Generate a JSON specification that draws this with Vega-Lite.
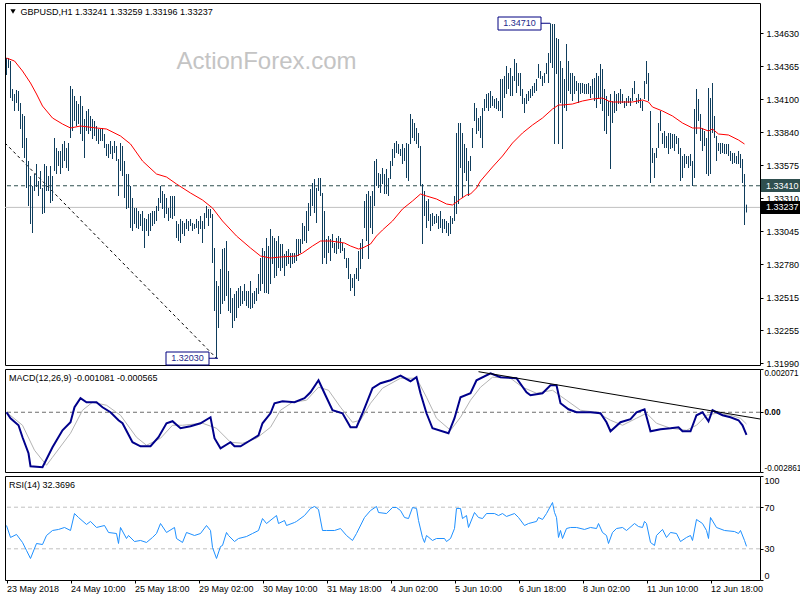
{
"$schema": "https://vega.github.io/schema/vega-lite/v6.json",
"background": "white",
"padding": {"left": 2, "top": 2, "right": 0, "bottom": 0},
"spacing": 4,
"bounds": "flush",
"config": {
  "view": {"stroke": "black", "strokeWidth": 1},
  "axis": {"labelFont": "Liberation Sans", "labelFontSize": 9, "labelColor": "black", "tickColor": "black", "tickSize": 3, "domain": false, "grid": false, "labelPadding": 3, "labelOverlap": false},
  "text": {"font": "Liberation Sans", "fontSize": 9}
},
"datasets": {
"bars": [
{"i":0,"h":1.34432,"l":1.34296},{"i":1,"h":1.34432,"l":1.34352},{"i":2,"h":1.34408,"l":1.34112},{"i":3,"h":1.34184,"l":1.34088},{"i":4,"h":1.34144,"l":1.34008},{"i":5,"h":1.34176,"l":1.34072},{"i":6,"h":1.34168,"l":1.34008},{"i":7,"h":1.34072,"l":1.33864},{"i":8,"h":1.33984,"l":1.33712},{"i":9,"h":1.33968,"l":1.33632},
{"i":10,"h":1.33792,"l":1.33392},{"i":11,"h":1.33608,"l":1.33248},{"i":12,"h":1.33488,"l":1.33104},{"i":13,"h":1.33408,"l":1.33032},{"i":14,"h":1.33504,"l":1.33368},{"i":15,"h":1.33584,"l":1.334},{"i":16,"h":1.33448,"l":1.33328},{"i":17,"h":1.33528,"l":1.33384},{"i":18,"h":1.33392,"l":1.33184},{"i":19,"h":1.33584,"l":1.33192},
{"i":20,"h":1.33568,"l":1.33368},{"i":21,"h":1.33488,"l":1.33368},{"i":22,"h":1.33568,"l":1.33272},{"i":23,"h":1.33488,"l":1.33288},{"i":24,"h":1.33792,"l":1.33528},{"i":25,"h":1.33712,"l":1.33504},{"i":26,"h":1.33688,"l":1.33568},{"i":27,"h":1.33688,"l":1.33504},{"i":28,"h":1.33744,"l":1.33552},{"i":29,"h":1.33768,"l":1.33608},
{"i":30,"h":1.33712,"l":1.33552},{"i":31,"h":1.33752,"l":1.33528},{"i":32,"h":1.34208,"l":1.33792},{"i":33,"h":1.34184,"l":1.33848},{"i":34,"h":1.34128,"l":1.33928},{"i":35,"h":1.34088,"l":1.33888},{"i":36,"h":1.34064,"l":1.33904},{"i":37,"h":1.34128,"l":1.33824},{"i":38,"h":1.34048,"l":1.33768},{"i":39,"h":1.33944,"l":1.33632},
{"i":40,"h":1.34008,"l":1.33848},{"i":41,"h":1.34024,"l":1.33824},{"i":42,"h":1.33968,"l":1.33848},{"i":43,"h":1.33944,"l":1.33784},{"i":44,"h":1.33928,"l":1.33808},{"i":45,"h":1.33888,"l":1.33768},{"i":46,"h":1.33864,"l":1.33744},{"i":47,"h":1.33864,"l":1.33768},{"i":48,"h":1.33872,"l":1.33768},{"i":49,"h":1.33824,"l":1.33712},
{"i":50,"h":1.33744,"l":1.33648},{"i":51,"h":1.33744,"l":1.33632},{"i":52,"h":1.33768,"l":1.33664},{"i":53,"h":1.33728,"l":1.33624},{"i":54,"h":1.33768,"l":1.33672},{"i":55,"h":1.33728,"l":1.33608},{"i":56,"h":1.33624,"l":1.33328},{"i":57,"h":1.33752,"l":1.33528},{"i":58,"h":1.33728,"l":1.33488},{"i":59,"h":1.33608,"l":1.33312},
{"i":60,"h":1.33504,"l":1.33224},{"i":61,"h":1.33504,"l":1.33232},{"i":62,"h":1.33408,"l":1.33072},{"i":63,"h":1.33312,"l":1.33048},{"i":64,"h":1.33232,"l":1.33104},{"i":65,"h":1.33232,"l":1.33072},{"i":66,"h":1.33208,"l":1.33064},{"i":67,"h":1.33184,"l":1.33088},{"i":68,"h":1.33208,"l":1.33048},{"i":69,"h":1.33152,"l":1.32912},
{"i":70,"h":1.33144,"l":1.33048},{"i":71,"h":1.33184,"l":1.33008},{"i":72,"h":1.33192,"l":1.33048},{"i":73,"h":1.33208,"l":1.33088},{"i":74,"h":1.33208,"l":1.33104},{"i":75,"h":1.33248,"l":1.33128},{"i":76,"h":1.33312,"l":1.33208},{"i":77,"h":1.33408,"l":1.33272},{"i":78,"h":1.33368,"l":1.33224},{"i":79,"h":1.33344,"l":1.33152},
{"i":80,"h":1.33312,"l":1.33184},{"i":81,"h":1.33232,"l":1.33128},{"i":82,"h":1.33328,"l":1.33152},{"i":83,"h":1.33328,"l":1.33144},{"i":84,"h":1.33328,"l":1.33168},{"i":85,"h":1.33128,"l":1.32992},{"i":86,"h":1.33104,"l":1.32968},{"i":87,"h":1.33144,"l":1.32952},{"i":88,"h":1.33128,"l":1.33024},{"i":89,"h":1.33112,"l":1.33008},
{"i":90,"h":1.33144,"l":1.33064},{"i":91,"h":1.33128,"l":1.33048},{"i":92,"h":1.33144,"l":1.33088},{"i":93,"h":1.33112,"l":1.33048},{"i":94,"h":1.33104,"l":1.33064},{"i":95,"h":1.33144,"l":1.33072},{"i":96,"h":1.33128,"l":1.33024},{"i":97,"h":1.33168,"l":1.33064},{"i":98,"h":1.33128,"l":1.32952},{"i":99,"h":1.33192,"l":1.33064},
{"i":100,"h":1.33248,"l":1.33152},{"i":101,"h":1.33224,"l":1.33088},{"i":102,"h":1.33224,"l":1.33152},{"i":103,"h":1.33184,"l":1.32792},{"i":104,"h":1.32912,"l":1.32408},{"i":105,"h":1.32648,"l":1.3203},{"i":106,"h":1.32608,"l":1.32272},{"i":107,"h":1.32744,"l":1.32384},{"i":108,"h":1.32904,"l":1.32464},{"i":109,"h":1.32912,"l":1.32488},
{"i":110,"h":1.32968,"l":1.32528},{"i":111,"h":1.32728,"l":1.32408},{"i":112,"h":1.32592,"l":1.32392},{"i":113,"h":1.32512,"l":1.32272},{"i":114,"h":1.32544,"l":1.32328},{"i":115,"h":1.32568,"l":1.32352},{"i":116,"h":1.32592,"l":1.32432},{"i":117,"h":1.32608,"l":1.32448},{"i":118,"h":1.32568,"l":1.32464},{"i":119,"h":1.32624,"l":1.32488},
{"i":120,"h":1.32568,"l":1.32448},{"i":121,"h":1.32568,"l":1.32432},{"i":122,"h":1.32648,"l":1.32424},{"i":123,"h":1.32552,"l":1.32432},{"i":124,"h":1.32568,"l":1.32464},{"i":125,"h":1.32592,"l":1.32488},{"i":126,"h":1.32704,"l":1.32544},{"i":127,"h":1.32832,"l":1.32568},{"i":128,"h":1.32912,"l":1.32624},{"i":129,"h":1.32888,"l":1.32552},
{"i":130,"h":1.32992,"l":1.32552},{"i":131,"h":1.32928,"l":1.32544},{"i":132,"h":1.33064,"l":1.32624},{"i":133,"h":1.33008,"l":1.32784},{"i":134,"h":1.32992,"l":1.32672},{"i":135,"h":1.32968,"l":1.32688},{"i":136,"h":1.33008,"l":1.32752},{"i":137,"h":1.32944,"l":1.32728},{"i":138,"h":1.32944,"l":1.32752},{"i":139,"h":1.32864,"l":1.32688},
{"i":140,"h":1.32888,"l":1.32768},{"i":141,"h":1.32904,"l":1.32784},{"i":142,"h":1.32872,"l":1.32752},{"i":143,"h":1.32872,"l":1.32784},{"i":144,"h":1.32872,"l":1.32792},{"i":145,"h":1.32984,"l":1.32808},{"i":146,"h":1.32984,"l":1.32848},{"i":147,"h":1.32984,"l":1.32872},{"i":148,"h":1.33112,"l":1.32944},{"i":149,"h":1.33088,"l":1.32968},
{"i":150,"h":1.33208,"l":1.32952},{"i":151,"h":1.33272,"l":1.33048},{"i":152,"h":1.33384,"l":1.33168},{"i":153,"h":1.33432,"l":1.33248},{"i":154,"h":1.33464,"l":1.33192},{"i":155,"h":1.33392,"l":1.33112},{"i":156,"h":1.33472,"l":1.33368},{"i":157,"h":1.33472,"l":1.33328},{"i":158,"h":1.33352,"l":1.32784},{"i":159,"h":1.33208,"l":1.32832},
{"i":160,"h":1.32984,"l":1.32784},{"i":161,"h":1.33008,"l":1.32872},{"i":162,"h":1.32984,"l":1.32808},{"i":163,"h":1.33024,"l":1.32912},{"i":164,"h":1.32952,"l":1.32872},{"i":165,"h":1.32992,"l":1.32864},{"i":166,"h":1.33008,"l":1.32904},{"i":167,"h":1.32992,"l":1.32872},{"i":168,"h":1.32952,"l":1.32888},{"i":169,"h":1.32912,"l":1.32824},
{"i":170,"h":1.32832,"l":1.32752},{"i":171,"h":1.32832,"l":1.32664},{"i":172,"h":1.32704,"l":1.32568},{"i":173,"h":1.32672,"l":1.32592},{"i":174,"h":1.32704,"l":1.32528},{"i":175,"h":1.32752,"l":1.32664},{"i":176,"h":1.32888,"l":1.32648},{"i":177,"h":1.32952,"l":1.32744},{"i":178,"h":1.32984,"l":1.32824},{"i":179,"h":1.33288,"l":1.33072},
{"i":180,"h":1.33344,"l":1.32968},{"i":181,"h":1.33368,"l":1.32824},{"i":182,"h":1.33328,"l":1.33072},{"i":183,"h":1.33368,"l":1.33024},{"i":184,"h":1.33608,"l":1.33248},{"i":185,"h":1.33624,"l":1.33408},{"i":186,"h":1.33512,"l":1.33392},{"i":187,"h":1.33504,"l":1.33352},{"i":188,"h":1.33552,"l":1.33424},{"i":189,"h":1.33504,"l":1.33344},
{"i":190,"h":1.33544,"l":1.33344},{"i":191,"h":1.33472,"l":1.33328},{"i":192,"h":1.33608,"l":1.33464},{"i":193,"h":1.33704,"l":1.33568},{"i":194,"h":1.33752,"l":1.33632},{"i":195,"h":1.33768,"l":1.33672},{"i":196,"h":1.33744,"l":1.33664},{"i":197,"h":1.33704,"l":1.33648},{"i":198,"h":1.33744,"l":1.33584},{"i":199,"h":1.33712,"l":1.33608},
{"i":200,"h":1.33752,"l":1.33472},{"i":201,"h":1.33744,"l":1.33448},{"i":202,"h":1.33984,"l":1.33744},{"i":203,"h":1.33944,"l":1.33792},{"i":204,"h":1.33912,"l":1.33768},{"i":205,"h":1.33872,"l":1.33744},{"i":206,"h":1.33832,"l":1.33712},{"i":207,"h":1.33728,"l":1.33408},{"i":208,"h":1.33424,"l":1.32944},{"i":209,"h":1.33368,"l":1.33168},
{"i":210,"h":1.33288,"l":1.33072},{"i":211,"h":1.33304,"l":1.33128},{"i":212,"h":1.33184,"l":1.33048},{"i":213,"h":1.33192,"l":1.33088},{"i":214,"h":1.33168,"l":1.33104},{"i":215,"h":1.33184,"l":1.33112},{"i":216,"h":1.33168,"l":1.33064},{"i":217,"h":1.33208,"l":1.33072},{"i":218,"h":1.33144,"l":1.33032},{"i":219,"h":1.33144,"l":1.33064},
{"i":220,"h":1.33128,"l":1.33032},{"i":221,"h":1.33112,"l":1.33008},{"i":222,"h":1.33168,"l":1.33024},{"i":223,"h":1.33152,"l":1.33104},{"i":224,"h":1.33328,"l":1.33128},{"i":225,"h":1.33832,"l":1.33184},{"i":226,"h":1.33912,"l":1.33264},{"i":227,"h":1.33912,"l":1.33552},{"i":228,"h":1.33832,"l":1.33312},{"i":229,"h":1.33744,"l":1.33512},
{"i":230,"h":1.33712,"l":1.33448},{"i":231,"h":1.33608,"l":1.33328},{"i":232,"h":1.33648,"l":1.33528},{"i":233,"h":1.33872,"l":1.33712},{"i":234,"h":1.34072,"l":1.33928},{"i":235,"h":1.34032,"l":1.33824},{"i":236,"h":1.33952,"l":1.33848},{"i":237,"h":1.33968,"l":1.33792},{"i":238,"h":1.34032,"l":1.33712},{"i":239,"h":1.34104,"l":1.34008},
{"i":240,"h":1.34144,"l":1.34032},{"i":241,"h":1.34152,"l":1.34008},{"i":242,"h":1.34168,"l":1.34032},{"i":243,"h":1.34128,"l":1.34048},{"i":244,"h":1.34104,"l":1.34032},{"i":245,"h":1.34112,"l":1.34024},{"i":246,"h":1.34088,"l":1.34008},{"i":247,"h":1.34264,"l":1.34008},{"i":248,"h":1.34264,"l":1.33952},{"i":249,"h":1.34288,"l":1.34112},
{"i":250,"h":1.34368,"l":1.34144},{"i":251,"h":1.34312,"l":1.34184},{"i":252,"h":1.34352,"l":1.34128},{"i":253,"h":1.34288,"l":1.34128},{"i":254,"h":1.34424,"l":1.34248},{"i":255,"h":1.34392,"l":1.34152},{"i":256,"h":1.34312,"l":1.34208},{"i":257,"h":1.34312,"l":1.34128},{"i":258,"h":1.34184,"l":1.34064},{"i":259,"h":1.34112,"l":1.33992},
{"i":260,"h":1.34144,"l":1.34064},{"i":261,"h":1.34168,"l":1.34088},{"i":262,"h":1.34184,"l":1.34112},{"i":263,"h":1.34208,"l":1.34128},{"i":264,"h":1.34232,"l":1.34152},{"i":265,"h":1.34264,"l":1.34168},{"i":266,"h":1.34384,"l":1.34272},{"i":267,"h":1.34328,"l":1.34264},{"i":268,"h":1.34288,"l":1.34208},{"i":269,"h":1.34312,"l":1.34232},
{"i":270,"h":1.34392,"l":1.34304},{"i":271,"h":1.34472,"l":1.34232},{"i":272,"h":1.3471,"l":1.34392},{"i":273,"h":1.34704,"l":1.34352},{"i":274,"h":1.34704,"l":1.33744},{"i":275,"h":1.34592,"l":1.34304},{"i":276,"h":1.34584,"l":1.33744},{"i":277,"h":1.34408,"l":1.34072},{"i":278,"h":1.34352,"l":1.33704},{"i":279,"h":1.34264,"l":1.34032},
{"i":280,"h":1.34544,"l":1.34008},{"i":281,"h":1.34408,"l":1.34168},{"i":282,"h":1.34312,"l":1.34144},{"i":283,"h":1.34312,"l":1.34088},{"i":284,"h":1.34288,"l":1.34144},{"i":285,"h":1.34248,"l":1.34168},{"i":286,"h":1.34232,"l":1.34072},{"i":287,"h":1.34232,"l":1.34144},{"i":288,"h":1.34232,"l":1.34152},{"i":289,"h":1.34224,"l":1.34144},
{"i":290,"h":1.34224,"l":1.34144},{"i":291,"h":1.34232,"l":1.34144},{"i":292,"h":1.34208,"l":1.34112},{"i":293,"h":1.34264,"l":1.34144},{"i":294,"h":1.34272,"l":1.34088},{"i":295,"h":1.34312,"l":1.34032},{"i":296,"h":1.34288,"l":1.34104},{"i":297,"h":1.34384,"l":1.34064},{"i":298,"h":1.34344,"l":1.34008},{"i":299,"h":1.34184,"l":1.33848},
{"i":300,"h":1.34128,"l":1.33824},{"i":301,"h":1.34088,"l":1.33968},{"i":302,"h":1.34144,"l":1.33544},{"i":303,"h":1.34088,"l":1.33912},{"i":304,"h":1.34168,"l":1.33992},{"i":305,"h":1.34144,"l":1.34008},{"i":306,"h":1.34152,"l":1.34064},{"i":307,"h":1.34184,"l":1.34064},{"i":308,"h":1.34144,"l":1.34072},{"i":309,"h":1.34088,"l":1.34032},
{"i":310,"h":1.34112,"l":1.34048},{"i":311,"h":1.34128,"l":1.34072},{"i":312,"h":1.34112,"l":1.34048},{"i":313,"h":1.34192,"l":1.34088},{"i":314,"h":1.34248,"l":1.34144},{"i":315,"h":1.34112,"l":1.34064},{"i":316,"h":1.34144,"l":1.34072},{"i":317,"h":1.34112,"l":1.34032},{"i":318,"h":1.34088,"l":1.34008},{"i":319,"h":1.34248,"l":1.34104},
{"i":320,"h":1.34408,"l":1.34224},{"i":321,"h":1.34312,"l":1.34088},{"i":322,"h":1.34008,"l":1.33432},{"i":323,"h":1.33712,"l":1.33592},{"i":324,"h":1.33672,"l":1.33472},{"i":325,"h":1.33712,"l":1.33632},{"i":326,"h":1.33912,"l":1.33712},{"i":327,"h":1.34008,"l":1.33848},{"i":328,"h":1.33832,"l":1.33744},{"i":329,"h":1.33848,"l":1.33712},
{"i":330,"h":1.33808,"l":1.33712},{"i":331,"h":1.33832,"l":1.33664},{"i":332,"h":1.33832,"l":1.33704},{"i":333,"h":1.33824,"l":1.33712},{"i":334,"h":1.33824,"l":1.33688},{"i":335,"h":1.33808,"l":1.33744},{"i":336,"h":1.33792,"l":1.33664},{"i":337,"h":1.33712,"l":1.33448},{"i":338,"h":1.33648,"l":1.33472},{"i":339,"h":1.33664,"l":1.33552},
{"i":340,"h":1.33648,"l":1.33584},{"i":341,"h":1.33648,"l":1.33552},{"i":342,"h":1.33664,"l":1.33568},{"i":343,"h":1.33608,"l":1.33408},{"i":344,"h":1.34024,"l":1.33472},{"i":345,"h":1.34184,"l":1.33824},{"i":346,"h":1.34104,"l":1.33928},{"i":347,"h":1.33984,"l":1.33768},{"i":348,"h":1.33872,"l":1.33688},{"i":349,"h":1.33848,"l":1.33728},
{"i":350,"h":1.33792,"l":1.33504},{"i":351,"h":1.34192,"l":1.33488},{"i":352,"h":1.34112,"l":1.33504},{"i":353,"h":1.34232,"l":1.33832},{"i":354,"h":1.33968,"l":1.33792},{"i":355,"h":1.33808,"l":1.33608},{"i":356,"h":1.33752,"l":1.33688},{"i":357,"h":1.33752,"l":1.33664},{"i":358,"h":1.33752,"l":1.33672},{"i":359,"h":1.33744,"l":1.33664},
{"i":360,"h":1.33744,"l":1.33664},{"i":361,"h":1.33744,"l":1.33648},{"i":362,"h":1.33688,"l":1.33608},{"i":363,"h":1.33672,"l":1.33584},{"i":364,"h":1.33672,"l":1.33592},{"i":365,"h":1.33648,"l":1.33584},{"i":366,"h":1.33688,"l":1.33584},{"i":367,"h":1.33664,"l":1.33552},{"i":368,"h":1.33624,"l":1.33432},{"i":369,"h":1.33504,"l":1.33096},
{"i":370,"h":1.33259,"l":1.33196}
],
"ma": [
{"i":0,"v":1.34432},{"i":4,"v":1.34408},{"i":8,"v":1.34328},{"i":12,"v":1.34232},{"i":15,"v":1.34144},{"i":18,"v":1.34048},{"i":23,"v":1.33952},{"i":28,"v":1.33904},{"i":32,"v":1.33872},{"i":37,"v":1.33888},{"i":45,"v":1.33872},{"i":50,"v":1.33864},{"i":57,"v":1.33808},{"i":62,"v":1.33744},{"i":68,"v":1.33608},{"i":75,"v":1.33504},{"i":80,"v":1.3348},{"i":85,"v":1.33424},{"i":92,"v":1.33352},{"i":98,"v":1.33296},{"i":103,"v":1.33232},{"i":108,"v":1.33128},{"i":115,"v":1.33008},{"i":122,"v":1.32912},{"i":127,"v":1.32848},{"i":132,"v":1.32832},{"i":137,"v":1.3284},{"i":145,"v":1.32848},{"i":148,"v":1.32872},{"i":153,"v":1.32928},{"i":157,"v":1.32968},{"i":162,"v":1.32968},{"i":169,"v":1.32952},{"i":172,"v":1.32928},{"i":176,"v":1.32904},{"i":178,"v":1.32912},{"i":182,"v":1.32944},{"i":185,"v":1.33008},{"i":188,"v":1.33056},{"i":193,"v":1.33128},{"i":198,"v":1.33224},{"i":203,"v":1.33288},{"i":207,"v":1.33344},{"i":210,"v":1.33328},{"i":215,"v":1.33304},{"i":220,"v":1.33264},{"i":223,"v":1.33256},{"i":227,"v":1.33304},{"i":230,"v":1.33336},{"i":232,"v":1.33344},{"i":235,"v":1.33392},{"i":237,"v":1.33448},{"i":243,"v":1.3356},{"i":248,"v":1.33648},{"i":253,"v":1.33752},{"i":258,"v":1.33832},{"i":263,"v":1.33896},{"i":268,"v":1.33952},{"i":273,"v":1.34024},{"i":276,"v":1.34056},{"i":278,"v":1.34056},{"i":283,"v":1.34064},{"i":288,"v":1.34088},{"i":293,"v":1.34104},{"i":298,"v":1.34112},{"i":301,"v":1.34088},{"i":303,"v":1.3408},{"i":308,"v":1.3408},{"i":313,"v":1.3408},{"i":318,"v":1.34096},{"i":321,"v":1.3408},{"i":323,"v":1.3404},{"i":328,"v":1.34008},{"i":333,"v":1.33968},{"i":338,"v":1.33912},{"i":343,"v":1.33872},{"i":347,"v":1.33872},{"i":351,"v":1.33848},{"i":353,"v":1.33864},{"i":356,"v":1.33824},{"i":361,"v":1.33816},{"i":366,"v":1.33776},{"i":369,"v":1.33744}
],
"macd": [
{"i":0,"v":0},{"i":2,"v":-0.000287},{"i":6,"v":-0.000623},{"i":8,"v":-0.001198},{"i":11,"v":-0.001964},{"i":12,"v":-0.002587},{"i":18,"v":-0.002635},{"i":23,"v":-0.001677},{"i":28,"v":-0.000862},{"i":32,"v":-0.000479},{"i":34,"v":0.00024},{"i":37,"v":0.000671},{"i":40,"v":0.000479},{"i":45,"v":0.000479},{"i":48,"v":0.00024},{"i":52,"v":0},{"i":56,"v":-0.000383},{"i":58,"v":-0.000527},{"i":63,"v":-0.001437},{"i":67,"v":-0.001629},{"i":72,"v":-0.001629},{"i":76,"v":-0.001198},{"i":80,"v":-0.000527},{"i":83,"v":-0.000431},{"i":87,"v":-0.000766},{"i":92,"v":-0.000671},{"i":97,"v":-0.000527},{"i":102,"v":-0.00024},{"i":104,"v":-0.001245},{"i":107,"v":-0.001724},{"i":112,"v":-0.001437},{"i":114,"v":-0.001629},{"i":117,"v":-0.001629},{"i":122,"v":-0.001341},{"i":126,"v":-0.001102},{"i":128,"v":-0.000527},{"i":132,"v":-0.000048},{"i":134,"v":0.000431},{"i":138,"v":0.000527},{"i":144,"v":0.000479},{"i":149,"v":0.000671},{"i":152,"v":0.000958},{"i":156,"v":0.001533},{"i":159,"v":0.00091},{"i":163,"v":0.000096},{"i":168,"v":-0.000048},{"i":172,"v":-0.000719},{"i":175,"v":-0.000719},{"i":178,"v":-0.000048},{"i":183,"v":0.00115},{"i":187,"v":0.001389},{"i":192,"v":0.001533},{"i":197,"v":0.00175},{"i":202,"v":0.001485},{"i":205,"v":0.001677},{"i":207,"v":0.00091},{"i":210,"v":-0.000048},{"i":213,"v":-0.000766},{"i":221,"v":-0.001006},{"i":224,"v":-0.000287},{"i":227,"v":0.000719},{"i":232,"v":0.00091},{"i":235,"v":0.001533},{"i":242,"v":0.001868},{"i":247,"v":0.001677},{"i":255,"v":0.001629},{"i":260,"v":0.000958},{"i":262,"v":0.000814},{"i":268,"v":0.00091},{"i":272,"v":0.001293},{"i":275,"v":0.001293},{"i":277,"v":0.000431},{"i":281,"v":0.000144},{"i":285,"v":0},{"i":292,"v":0},{"i":297,"v":-0.000048},{"i":300,"v":-0.000479},{"i":302,"v":-0.00091},{"i":307,"v":-0.000479},{"i":312,"v":-0.000335},{"i":315,"v":0},{"i":319,"v":0.000144},{"i":322,"v":-0.00091},{"i":327,"v":-0.000814},{"i":332,"v":-0.000766},{"i":336,"v":-0.000719},{"i":338,"v":-0.00091},{"i":342,"v":-0.00091},{"i":345,"v":-0.000144},{"i":348,"v":0},{"i":351,"v":-0.000431},{"i":353,"v":0.000096},{"i":358,"v":-0.000144},{"i":362,"v":-0.00024},{"i":366,"v":-0.000383},{"i":368,"v":-0.000623},{"i":370,"v":-0.001081}
],
"sig": [
{"i":0,"v":0},{"i":8,"v":-0.000623},{"i":14,"v":-0.00182},{"i":20,"v":-0.002539},{"i":23,"v":-0.002156},{"i":32,"v":-0.001006},{"i":38,"v":0.000096},{"i":43,"v":0.000479},{"i":50,"v":0.000335},{"i":57,"v":-0.000144},{"i":65,"v":-0.001198},{"i":70,"v":-0.001581},{"i":77,"v":-0.001245},{"i":83,"v":-0.000623},{"i":88,"v":-0.000623},{"i":98,"v":-0.000527},{"i":105,"v":-0.000766},{"i":112,"v":-0.001437},{"i":118,"v":-0.001485},{"i":125,"v":-0.001245},{"i":132,"v":-0.000719},{"i":137,"v":0.000096},{"i":143,"v":0.000479},{"i":150,"v":0.000575},{"i":156,"v":0.001198},{"i":161,"v":0.001054},{"i":167,"v":0.00024},{"i":173,"v":-0.000479},{"i":177,"v":-0.000383},{"i":182,"v":0.000431},{"i":188,"v":0.00115},{"i":197,"v":0.001629},{"i":205,"v":0.001629},{"i":210,"v":0.000719},{"i":215,"v":-0.000287},{"i":222,"v":-0.000862},{"i":227,"v":-0.00024},{"i":232,"v":0.000575},{"i":237,"v":0.001198},{"i":243,"v":0.001677},{"i":252,"v":0.001629},{"i":258,"v":0.001198},{"i":265,"v":0.00091},{"i":273,"v":0.001054},{"i":280,"v":0.000575},{"i":287,"v":0.000096},{"i":295,"v":0},{"i":302,"v":-0.000383},{"i":308,"v":-0.000623},{"i":315,"v":-0.000287},{"i":320,"v":-0.000048},{"i":325,"v":-0.000527},{"i":332,"v":-0.000766},{"i":340,"v":-0.000862},{"i":345,"v":-0.000623},{"i":350,"v":-0.000144},{"i":355,"v":-0.000048},{"i":362,"v":-0.000144},{"i":367,"v":-0.000287},{"i":370,"v":-0.000565}
],
"rsi": [
{"i":0,"r":52.4},{"i":2,"r":40.9},{"i":5,"r":43.8},{"i":8,"r":36.1},{"i":10,"r":28.4},{"i":12,"r":20.7},{"i":15,"r":35.1},{"i":18,"r":34.1},{"i":20,"r":42.8},{"i":23,"r":47.6},{"i":26,"r":48.6},{"i":29,"r":50.5},{"i":32,"r":47.6},{"i":34,"r":63.9},{"i":36,"r":60.1},{"i":40,"r":53.4},{"i":42,"r":56.3},{"i":45,"r":50.5},{"i":49,"r":52.4},{"i":51,"r":45.7},{"i":55,"r":44.7},{"i":56,"r":35.1},{"i":57,"r":50.5},{"i":60,"r":39.9},{"i":61,"r":42.8},{"i":64,"r":37.0},{"i":67,"r":38.0},{"i":70,"r":36.1},{"i":73,"r":40.9},{"i":75,"r":44.7},{"i":77,"r":54.3},{"i":80,"r":45.7},{"i":84,"r":50.5},{"i":85,"r":39.9},{"i":88,"r":36.1},{"i":90,"r":45.7},{"i":94,"r":42.8},{"i":97,"r":44.7},{"i":100,"r":52.4},{"i":102,"r":47.6},{"i":103,"r":31.3},{"i":105,"r":20.7},{"i":107,"r":32.2},{"i":108,"r":33.2},{"i":110,"r":45.7},{"i":111,"r":42.8},{"i":114,"r":37.0},{"i":116,"r":39.9},{"i":120,"r":41.8},{"i":123,"r":44.7},{"i":126,"r":47.6},{"i":128,"r":59.1},{"i":130,"r":54.3},{"i":135,"r":62.0},{"i":136,"r":54.3},{"i":139,"r":57.2},{"i":140,"r":52.4},{"i":144,"r":55.3},{"i":145,"r":56.3},{"i":149,"r":62.0},{"i":152,"r":68.8},{"i":154,"r":70.7},{"i":156,"r":67.8},{"i":158,"r":47.6},{"i":160,"r":47.6},{"i":164,"r":47.6},{"i":167,"r":49.5},{"i":170,"r":42.8},{"i":173,"r":38.0},{"i":175,"r":44.7},{"i":179,"r":60.1},{"i":182,"r":66.8},{"i":185,"r":70.7},{"i":186,"r":64.9},{"i":190,"r":63.9},{"i":193,"r":69.7},{"i":195,"r":69.7},{"i":197,"r":66.8},{"i":199,"r":60.1},{"i":201,"r":59.1},{"i":203,"r":69.7},{"i":205,"r":68.8},{"i":206,"r":57.2},{"i":208,"r":40.9},{"i":209,"r":36.1},{"i":210,"r":42.8},{"i":213,"r":38.0},{"i":215,"r":39.9},{"i":219,"r":39.9},{"i":220,"r":37.0},{"i":222,"r":39.9},{"i":224,"r":49.5},{"i":225,"r":68.8},{"i":227,"r":68.8},{"i":228,"r":59.1},{"i":230,"r":62.0},{"i":231,"r":50.5},{"i":234,"r":64.9},{"i":236,"r":60.1},{"i":238,"r":59.1},{"i":240,"r":63.9},{"i":244,"r":63.9},{"i":246,"r":62.0},{"i":248,"r":63.9},{"i":250,"r":61.1},{"i":254,"r":63.9},{"i":256,"r":60.1},{"i":259,"r":52.4},{"i":261,"r":54.3},{"i":265,"r":56.3},{"i":266,"r":60.1},{"i":268,"r":58.2},{"i":270,"r":63.9},{"i":273,"r":74.5},{"i":274,"r":64.9},{"i":275,"r":60.1},{"i":276,"r":40.9},{"i":277,"r":47.6},{"i":278,"r":39.9},{"i":280,"r":49.5},{"i":282,"r":50.5},{"i":285,"r":50.5},{"i":289,"r":48.6},{"i":292,"r":50.5},{"i":295,"r":49.5},{"i":296,"r":54.3},{"i":298,"r":45.7},{"i":300,"r":42.8},{"i":301,"r":35.1},{"i":303,"r":45.7},{"i":305,"r":49.5},{"i":308,"r":50.5},{"i":310,"r":47.6},{"i":314,"r":54.3},{"i":316,"r":51.4},{"i":318,"r":50.5},{"i":319,"r":56.3},{"i":320,"r":54.3},{"i":322,"r":36.1},{"i":324,"r":33.2},{"i":325,"r":42.8},{"i":328,"r":48.6},{"i":330,"r":40.9},{"i":332,"r":45.7},{"i":335,"r":44.7},{"i":337,"r":37.0},{"i":340,"r":40.9},{"i":342,"r":42.8},{"i":343,"r":38.0},{"i":345,"r":58.2},{"i":348,"r":54.3},{"i":350,"r":47.6},{"i":351,"r":39.9},{"i":352,"r":60.1},{"i":355,"r":50.5},{"i":359,"r":47.6},{"i":364,"r":46.6},{"i":366,"r":44.7},{"i":367,"r":47.6},{"i":369,"r":38.0},{"i":370,"r":32.37}
]
},
"vconcat": [
{
  "width": 755, "height": 362,
  "layer": [
    {"data": {"values": [{"p": 1.33237}]},
     "mark": {"type": "rule", "color": "#c0c0c0", "strokeWidth": 1},
     "encoding": {"y": {"field": "p", "type": "quantitative", "scale": {"domain": [1.31976, 1.34872], "nice": false, "zero": false},
       "axis": {"orient": "right", "title": null, "values": [1.3463, 1.34365, 1.341, 1.3384, 1.33575, 1.3331, 1.33045, 1.3278, 1.32515, 1.32255, 1.3199], "tickCount": 30, "format": ".5f", "labelOverlap": false}}}},
    {"data": {"values": [{"p": 1.3341}]},
     "mark": {"type": "rule", "color": "#2f4f4f", "strokeWidth": 1, "strokeDash": [4, 3]},
     "encoding": {"y": {"field": "p", "type": "quantitative", "scale": {"domain": [1.31976, 1.34872], "nice": false, "zero": false}, "axis": {"title": null}}}},
    {"data": {"values": [{"x": -0.75, "y": 1.33752}, {"x": 105, "y": 1.3203}]},
     "mark": {"type": "line", "color": "black", "strokeWidth": 1, "strokeDash": [3, 3]},
     "encoding": {"x": {"field": "x", "type": "quantitative", "scale": {"domain": [-0.75, 376.75], "nice": false, "zero": false}, "axis": null},
       "y": {"field": "y", "type": "quantitative", "scale": {"domain": [1.31976, 1.34872], "nice": false, "zero": false}, "axis": {"title": null}}}},
    {"data": {"name": "bars"},
     "mark": {"type": "rule", "color": "#0f3d5c", "strokeWidth": 1},
     "encoding": {"x": {"field": "i", "type": "quantitative", "scale": {"domain": [-0.75, 376.75], "nice": false, "zero": false}, "axis": null},
       "y": {"field": "h", "type": "quantitative", "scale": {"domain": [1.31976, 1.34872], "nice": false, "zero": false}, "axis": {"title": null}},
       "y2": {"field": "l"}}},
    {"data": {"name": "ma"},
     "mark": {"type": "line", "color": "#ff0000", "strokeWidth": 1},
     "encoding": {"x": {"field": "i", "type": "quantitative", "scale": {"domain": [-0.75, 376.75], "nice": false, "zero": false}, "axis": null},
       "y": {"field": "v", "type": "quantitative", "scale": {"domain": [1.31976, 1.34872], "nice": false, "zero": false}, "axis": {"title": null}}}},
    {"data": {"values": [{"x": 85, "y": 1.34344, "t": "ActionForex.com"}]},
     "mark": {"type": "text", "align": "left", "baseline": "alphabetic", "fontSize": 24, "color": "#c4c4c4", "font": "Liberation Sans"},
     "encoding": {"x": {"field": "x", "type": "quantitative", "scale": {"domain": [-0.75, 376.75], "nice": false, "zero": false}, "axis": null},
       "y": {"field": "y", "type": "quantitative", "scale": {"domain": [1.31976, 1.34872], "nice": false, "zero": false}, "axis": {"title": null}},
       "text": {"field": "t"}}},
    {"data": {"values": [{"x": 7, "y": 1.34776, "t": "GBPUSD,H1  1.33241 1.33259 1.33196 1.33237"}]},
     "mark": {"type": "text", "align": "left", "baseline": "alphabetic", "fontSize": 9, "color": "black"},
     "encoding": {"x": {"field": "x", "type": "quantitative", "scale": {"domain": [-0.75, 376.75], "nice": false, "zero": false}, "axis": null},
       "y": {"field": "y", "type": "quantitative", "scale": {"domain": [1.31976, 1.34872], "nice": false, "zero": false}, "axis": {"title": null}},
       "text": {"field": "t"}}},
    {"data": {"values": [{"x": 3.25, "y": 1.34804}]},
     "mark": {"type": "point", "shape": "triangle-down", "filled": true, "color": "black", "size": 28, "opacity": 1},
     "encoding": {"x": {"field": "x", "type": "quantitative", "scale": {"domain": [-0.75, 376.75], "nice": false, "zero": false}, "axis": null},
       "y": {"field": "y", "type": "quantitative", "scale": {"domain": [1.31976, 1.34872], "nice": false, "zero": false}, "axis": {"title": null}}}},
    {"data": {"values": [{"x": 267.25, "x2": 271.75, "y": 1.3471}, {"x": 101.25, "x2": 105.75, "y": 1.3203}]},
     "mark": {"type": "rule", "color": "#000080", "strokeWidth": 1},
     "encoding": {"x": {"field": "x", "type": "quantitative", "scale": {"domain": [-0.75, 376.75], "nice": false, "zero": false}, "axis": null},
       "x2": {"field": "x2"},
       "y": {"field": "y", "type": "quantitative", "scale": {"domain": [1.31976, 1.34872], "nice": false, "zero": false}, "axis": {"title": null}}}},
    {"data": {"values": [{"x": 245.75, "x2": 267.25, "y": 1.3476, "y2": 1.34656}, {"x": 79.75, "x2": 101.25, "y": 1.3208, "y2": 1.31976}]},
     "mark": {"type": "rect", "fill": "white", "stroke": "#000080", "strokeWidth": 1},
     "encoding": {"x": {"field": "x", "type": "quantitative", "scale": {"domain": [-0.75, 376.75], "nice": false, "zero": false}, "axis": null},
       "x2": {"field": "x2"},
       "y": {"field": "y", "type": "quantitative", "scale": {"domain": [1.31976, 1.34872], "nice": false, "zero": false}, "axis": {"title": null}},
       "y2": {"field": "y2"}}},
    {"data": {"values": [{"x": 256.5, "y": 1.3471, "t": "1.34710"}, {"x": 90.5, "y": 1.3203, "t": "1.32030"}]},
     "mark": {"type": "text", "align": "center", "baseline": "middle", "fontSize": 9, "color": "#1c2a8c"},
     "encoding": {"x": {"field": "x", "type": "quantitative", "scale": {"domain": [-0.75, 376.75], "nice": false, "zero": false}, "axis": null},
       "y": {"field": "y", "type": "quantitative", "scale": {"domain": [1.31976, 1.34872], "nice": false, "zero": false}, "axis": {"title": null}},
       "text": {"field": "t"}}},
    {"data": {"values": [{"x": 377.25, "x2": 398.25, "y": 1.33464, "y2": 1.3336, "c": "#2f4f4f"}, {"x": 377.25, "x2": 398.25, "y": 1.33288, "y2": 1.33184, "c": "#000000"}]},
     "mark": {"type": "rect", "strokeWidth": 0},
     "encoding": {"x": {"field": "x", "type": "quantitative", "scale": {"domain": [-0.75, 376.75], "nice": false, "zero": false}, "axis": null},
       "x2": {"field": "x2"},
       "y": {"field": "y", "type": "quantitative", "scale": {"domain": [1.31976, 1.34872], "nice": false, "zero": false}, "axis": {"title": null}},
       "y2": {"field": "y2"},
       "color": {"field": "c", "type": "nominal", "scale": null, "legend": null}}},
    {"data": {"values": [{"x": 379.75, "y": 1.3341, "t": "1.33410"}, {"x": 379.75, "y": 1.33237, "t": "1.33237"}]},
     "mark": {"type": "text", "align": "left", "baseline": "middle", "fontSize": 9, "color": "white"},
     "encoding": {"x": {"field": "x", "type": "quantitative", "scale": {"domain": [-0.75, 376.75], "nice": false, "zero": false}, "axis": null},
       "y": {"field": "y", "type": "quantitative", "scale": {"domain": [1.31976, 1.34872], "nice": false, "zero": false}, "axis": {"title": null}},
       "text": {"field": "t"}}}
  ]
},
{
  "width": 755, "height": 103,
  "layer": [
    {"data": {"values": [{"v": 0}]},
     "mark": {"type": "rule", "color": "#6e6e6e", "strokeWidth": 1, "strokeDash": [4, 3]},
     "encoding": {"y": {"field": "v", "type": "quantitative", "scale": {"domain": [-0.002861, 0.002071], "nice": false, "zero": false},
       "axis": {"orient": "right", "title": null, "values": [0.002071, 0, -0.002861], "tickCount": 30, "labelExpr": "datum.value == 0 ? '0.00' : (datum.value < 0 ? '-' + format(-datum.value, '.6f') : format(datum.value, '.6f'))", "labelFlush": true, "labelOverlap": false, "labelPadding": 1, "labelFontSize": 8.2,
         "labelFontWeight": {"condition": {"test": "datum.value == 0", "value": "bold"}, "value": "normal"}}}}},
    {"data": {"name": "sig"},
     "mark": {"type": "line", "color": "#b4b4b4", "strokeWidth": 1},
     "encoding": {"x": {"field": "i", "type": "quantitative", "scale": {"domain": [-0.75, 376.75], "nice": false, "zero": false}, "axis": null},
       "y": {"field": "v", "type": "quantitative", "scale": {"domain": [-0.002861, 0.002071], "nice": false, "zero": false}, "axis": {"title": null}}}},
    {"data": {"name": "macd"},
     "mark": {"type": "line", "color": "#00008b", "strokeWidth": 2},
     "encoding": {"x": {"field": "i", "type": "quantitative", "scale": {"domain": [-0.75, 376.75], "nice": false, "zero": false}, "axis": null},
       "y": {"field": "v", "type": "quantitative", "scale": {"domain": [-0.002861, 0.002071], "nice": false, "zero": false}, "axis": {"title": null}}}},
    {"data": {"values": [{"x": 236, "v": 0.001942}, {"x": 376.75, "v": -0.000323}]},
     "mark": {"type": "line", "color": "black", "strokeWidth": 1},
     "encoding": {"x": {"field": "x", "type": "quantitative", "scale": {"domain": [-0.75, 376.75], "nice": false, "zero": false}, "axis": null},
       "y": {"field": "v", "type": "quantitative", "scale": {"domain": [-0.002861, 0.002071], "nice": false, "zero": false}, "axis": {"title": null}}}},
    {"data": {"values": [{"x": 1.25, "v": 0.00164, "t": "MACD(12,26,9) -0.001081 -0.000565"}]},
     "mark": {"type": "text", "align": "left", "baseline": "middle", "fontSize": 9, "color": "black"},
     "encoding": {"x": {"field": "x", "type": "quantitative", "scale": {"domain": [-0.75, 376.75], "nice": false, "zero": false}, "axis": null},
       "y": {"field": "v", "type": "quantitative", "scale": {"domain": [-0.002861, 0.002071], "nice": false, "zero": false}, "axis": {"title": null}},
       "text": {"field": "t"}}}
  ]
},
{
  "width": 755, "height": 104,
  "layer": [
    {"data": {"values": [{"r": 70}, {"r": 30}]},
     "mark": {"type": "rule", "color": "#c0c0c0", "strokeWidth": 1, "strokeDash": [4, 3]},
     "encoding": {"y": {"field": "r", "type": "quantitative", "scale": {"domain": [0, 100], "nice": false, "zero": false},
       "axis": {"orient": "right", "title": null, "values": [100, 70, 30, 0], "tickCount": 30, "labelFlush": true, "labelOverlap": false, "labelPadding": 1}}}},
    {"data": {"name": "rsi"},
     "mark": {"type": "line", "color": "#1e90ff", "strokeWidth": 1},
     "encoding": {"x": {"field": "i", "type": "quantitative", "scale": {"domain": [-0.75, 376.75], "nice": false, "zero": false},
       "axis": {"orient": "bottom", "title": null, "values": [0, 32, 64, 96, 128, 160, 192, 224, 256, 288, 320, 352], "tickCount": 30,
         "labelExpr": "['23 May 2018','24 May 10:00','25 May 18:00','29 May 02:00','30 May 10:00','31 May 18:00','4 Jun 02:00','5 Jun 10:00','6 Jun 18:00','8 Jun 02:00','11 Jun 10:00','12 Jun 18:00'][round(datum.value/32)]",
         "labelAlign": "left", "labelOverlap": false, "labelBound": false, "labelFlush": false, "labelPadding": 1}},
       "y": {"field": "r", "type": "quantitative", "scale": {"domain": [0, 100], "nice": false, "zero": false}, "axis": {"title": null}}}},
    {"data": {"values": [{"x": 1.25, "r": 91.3, "t": "RSI(14) 32.3696"}]},
     "mark": {"type": "text", "align": "left", "baseline": "middle", "fontSize": 9, "color": "black"},
     "encoding": {"x": {"field": "x", "type": "quantitative", "scale": {"domain": [-0.75, 376.75], "nice": false, "zero": false}, "axis": {"title": null}},
       "y": {"field": "r", "type": "quantitative", "scale": {"domain": [0, 100], "nice": false, "zero": false}, "axis": {"title": null}},
       "text": {"field": "t"}}}
  ]
}
]
}
